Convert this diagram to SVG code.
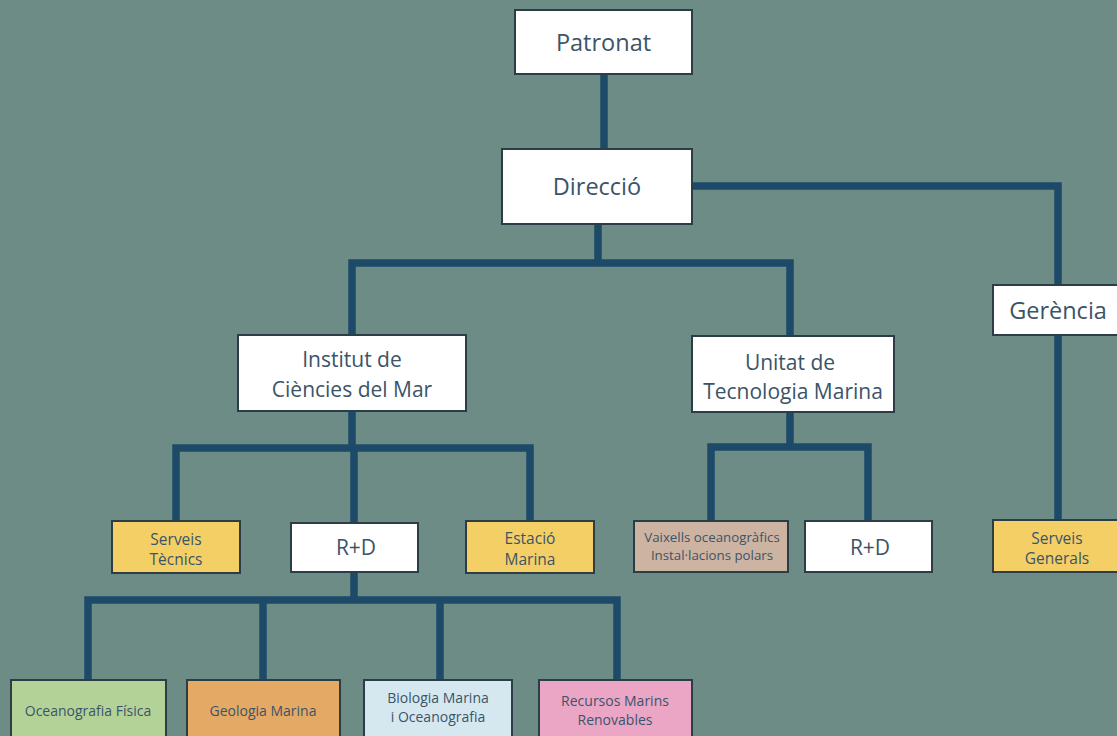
<svg xmlns="http://www.w3.org/2000/svg" width="1117" height="736" viewBox="0 0 1117 736">
<style>
.bg{fill:#6e8c86}
.ln{fill:none;stroke:#1d4a69;stroke-width:7.5;stroke-linejoin:miter;stroke-linecap:square}
.bx{stroke:#2b3d47;stroke-width:2}
.w{fill:#ffffff}
.y{fill:#f3cf66}
.t{fill:#3b5468;font-family:"Open Sans","Liberation Sans",sans-serif;text-anchor:middle}
.l1{font-size:23.5px}
.l2{font-size:21px}
.l3{font-size:21px}
.l4{font-size:15.5px}
.l5{font-size:14px}
.l6{font-size:13.3px}
</style>
<rect class="bg" x="0" y="0" width="1117" height="736"/>
<g id="connectors">
<path class="ln" d="M604 74 V149"/>
<path class="ln" d="M692 186 H1058 V285"/>
<path class="ln" d="M598 224 V263 M352 335 V263 H790 V336"/>
<path class="ln" d="M1058 335 V520"/>
<path class="ln" d="M352 411 V448 M176 521 V448 H530 V521 M354 448 V523"/>
<path class="ln" d="M790 412 V447 M711 521 V447 H868 V521"/>
<path class="ln" d="M354 572 V600 M88 680 V600 H617 V680 M263 600 V680 M440 600 V680"/>
</g>
<g id="patronat"><rect class="bx w" x="515" y="10" width="177" height="64"/><text class="t l1" x="603.5" y="51">Patronat</text></g>
<g id="direccio"><rect class="bx w" x="502" y="149" width="190" height="75"/><text class="t l1" x="597" y="195">Direcció</text></g>
<g id="gerencia"><rect class="bx w" x="993" y="285" width="130" height="50"/><text class="t l1" x="1058" y="319">Gerència</text></g>
<g id="icm"><rect class="bx w" x="238" y="335" width="228" height="76"/><text class="t l2" x="352" y="367">Institut de</text><text class="t l2" x="352" y="397">Ciències del Mar</text></g>
<g id="utm"><rect class="bx w" x="692" y="336" width="202" height="76"/><text class="t l2" x="790" y="370">Unitat de</text><text class="t l2" x="793" y="399">Tecnologia Marina</text></g>
<g id="serveis-tecnics"><rect class="bx y" x="112" y="521" width="128" height="52"/><text class="t l4" x="176" y="545">Serveis</text><text class="t l4" x="176" y="565">Tècnics</text></g>
<g id="rd-icm"><rect class="bx w" x="291" y="523" width="127" height="49"/><text class="t l3" x="356" y="555">R+D</text></g>
<g id="estacio-marina"><rect class="bx y" x="466" y="521" width="128" height="52"/><text class="t l4" x="530" y="544">Estació</text><text class="t l4" x="530" y="565">Marina</text></g>
<g id="vaixells"><rect class="bx" fill="#cdb4a2" x="634" y="521" width="154" height="51"/><text class="t l6" x="712" y="542">Vaixells oceanogràfics</text><text class="t l6" x="712" y="560">Instal·lacions polars</text></g>
<g id="rd-utm"><rect class="bx w" x="805" y="521" width="127" height="51"/><text class="t l3" x="870" y="555">R+D</text></g>
<g id="serveis-generals"><rect class="bx y" x="993" y="520" width="130" height="52"/><text class="t l4" x="1057" y="544">Serveis</text><text class="t l4" x="1057" y="564">Generals</text></g>
<g id="oceanografia-fisica"><rect class="bx" fill="#b3d298" x="11" y="680" width="155" height="62"/><text class="t l5" x="88" y="716">Oceanografia Física</text></g>
<g id="geologia-marina"><rect class="bx" fill="#e4a964" x="187" y="680" width="153" height="62"/><text class="t l5" x="263" y="716">Geologia Marina</text></g>
<g id="biologia-marina"><rect class="bx" fill="#d5e8f0" x="364" y="680" width="148" height="62"/><text class="t l5" x="438" y="703">Biologia Marina</text><text class="t l5" x="438" y="722">i Oceanografia</text></g>
<g id="recursos-marins"><rect class="bx" fill="#eba6c5" x="539" y="680" width="153" height="62"/><text class="t l5" x="615" y="706">Recursos Marins</text><text class="t l5" x="615" y="725">Renovables</text></g>
</svg>
